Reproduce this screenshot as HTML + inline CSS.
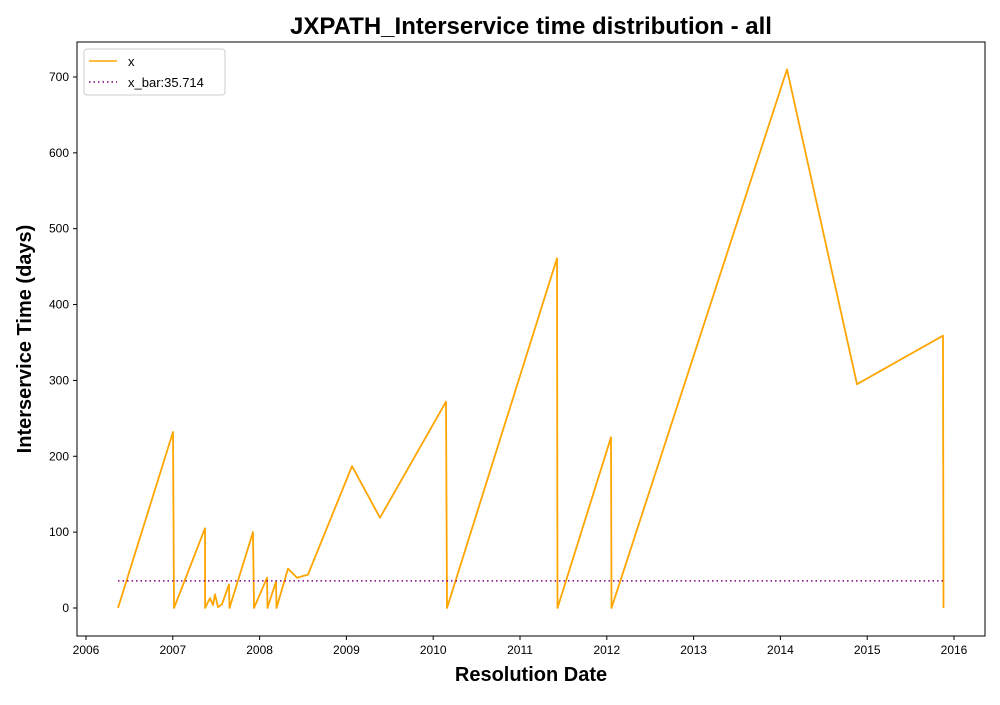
<!DOCTYPE html>
<html><head><meta charset="utf-8"><style>
body{margin:0;background:#fff;width:1000px;height:700px;overflow:hidden}
svg text{font-family:"Liberation Sans","DejaVu Sans",sans-serif}
</style></head><body>
<svg id="chart" width="1000" height="700">
<rect width="1000" height="700" fill="#fff"/>
<text x="531" y="34" text-anchor="middle" font-size="24" font-weight="bold">JXPATH_Interservice time distribution - all</text>
<g id="axes"></g>
<g id="marks"></g>
<rect x="77" y="42" width="908" height="594" fill="none" stroke="#000" stroke-width="1"/>
<text x="531" y="681" text-anchor="middle" font-size="20" font-weight="bold">Resolution Date</text>
<text transform="translate(31,339) rotate(-90)" text-anchor="middle" font-size="20" font-weight="bold">Interservice Time (days)</text>
<g>
<rect x="84" y="49" width="141" height="46" rx="3" fill="#fff" stroke="#ccc"/>
<line x1="89" y1="61" x2="117" y2="61" stroke="orange" stroke-width="1.5"/>
<text x="128" y="66" font-size="13">x</text>
<line x1="89" y1="82" x2="117" y2="82" stroke="purple" stroke-width="1.5" stroke-dasharray="1.5,3"/>
<text x="128" y="87" font-size="13">x_bar:35.714</text>
</g>
</svg>
<script>
const dates=[2006.369,2007.002,2007.014,2007.371,2007.372,2007.429,2007.463,2007.486,2007.521,2007.567,2007.647,2007.653,2007.924,2007.935,2008.085,2008.091,2008.189,2008.195,2008.327,2008.431,2008.558,2009.065,2009.387,2010.147,2010.159,2011.426,2011.432,2012.048,2012.054,2014.076,2014.882,2015.873,2015.879];
const values=[0,232,0,105,0,13,4,18,1,5,31,0,100,0,40,0,35,0,52,40,44,187,119,272,0,461,0,225,0,710,295,359,0];
const meanValue=35.714;
const xTicks=[2006,2007,2008,2009,2010,2011,2012,2013,2014,2015,2016];
const yTicks=[0,100,200,300,400,500,600,700];
const NS='http://www.w3.org/2000/svg';
function xs(v){return 86+(v-2006)*86.8;}
function ys(v){return 608-v*0.7586;}
const axes=document.getElementById('axes'),marks=document.getElementById('marks');
function mk(tag,attrs,parent){const e=document.createElementNS(NS,tag);for(const k in attrs)e.setAttribute(k,attrs[k]);parent.appendChild(e);return e;}
xTicks.forEach(t=>{
  const x=xs(t);
  const l=mk('line',{x1:x,y1:636,x2:x,y2:640,stroke:'#000'},axes);
  
  
  const tx=mk('text',{x:x,y:654,'text-anchor':'middle','font-size':12},axes);tx.textContent=t;
  
  
});
yTicks.forEach(t=>{
  const y=ys(t);
  const l=mk('line',{x1:73,y1:y,x2:77,y2:y,stroke:'#000'},axes);
  
  
  const tx=mk('text',{x:69,y:y+4,'text-anchor':'end','font-size':12},axes);tx.textContent=t;
  
  
});
const pts=dates.map((d,i)=>xs(d).toFixed(1)+','+ys(values[i]).toFixed(1)).join(' ');
const pl=mk('polyline',{points:pts,fill:'none',stroke:'orange','stroke-width':1.8,'stroke-linejoin':'round'},marks);


const ml=mk('line',{x1:xs(dates[0]),x2:xs(dates[dates.length-1]),y1:ys(meanValue),y2:ys(meanValue),stroke:'purple','stroke-width':1.5,'stroke-dasharray':'1.5,3'},marks);


</script>
</body></html>
